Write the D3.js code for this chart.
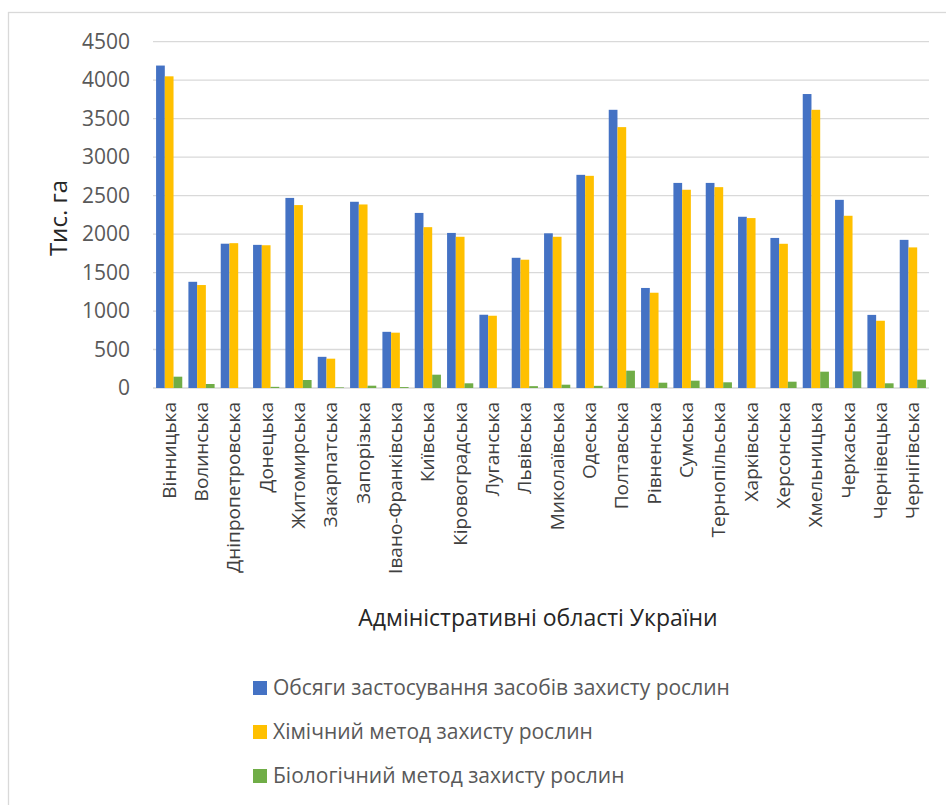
<!DOCTYPE html>
<html>
<head>
<meta charset="utf-8">
<script src="https://cdn.jsdelivr.net/npm/d3@7"></script>
<style>
  body { margin: 0; background: #fff; }
  text { font-family: "Open Sans", "Noto Sans", sans-serif; }
</style>
</head>
<body>
<div id="chart"></div>
<script>
// Regions of Ukraine
const regions = ['Вінницька', 'Волинська', 'Дніпропетровська', 'Донецька', 'Житомирська',
  'Закарпатська', 'Запорізька', 'Івано-Франківська', 'Київська', 'Кіровоградська',
  'Луганська', 'Львівська', 'Миколаївська', 'Одеська', 'Полтавська', 'Рівненська',
  'Сумська', 'Тернопільська', 'Харківська', 'Херсонська', 'Хмельницька', 'Черкаська',
  'Чернівецька', 'Чернігівська'];

const seriesNames = ['Обсяги застосування засобів захисту рослин',
  'Хімічний метод захисту рослин', 'Біологічний метод захисту рослин'];

const totalValues = [4190, 1380, 1875, 1860, 2470, 405, 2420, 730, 2275, 2015,
  952, 1692, 2010, 2770, 3615, 1300, 2665, 2665, 2225, 1950, 3820, 2445, 950, 1925];
const chemValues = [4050, 1338, 1882, 1855, 2377, 381, 2385, 719, 2090, 1965,
  939, 1667, 1965, 2757, 3390, 1238, 2576, 2610, 2208, 1874, 3615, 2238, 874, 1827];
const bioValues = [147, 52, 0, 15, 104, 8, 30, 12, 173, 61,
  0, 24, 43, 28, 225, 69, 95, 74, 0, 82, 212, 216, 61, 108];

const yTicks = [0, 500, 1000, 1500, 2000, 2500, 3000, 3500, 4000, 4500];
const colors = ['#4472C4', '#FFC000', '#70AD47'];

let width = 946, height = 805;
let plot = {left: 153, right: 929, top: 41.7, bottom: 388};

const svg = d3.select('#chart')
    .append('svg')
    .attr('width', width)
    .attr('height', height);

// chart border
svg.append('rect')
    .attr('x', 8.5).attr('y', 12.5)
    .attr('width', 960).attr('height', 820)
    .attr('fill', 'none')
    .attr('stroke', '#d9d9d9')
    .attr('stroke-width', 1.3);

// SCALES
let x0 = d3.scaleBand()
    .domain(regions)
    .range([plot.left, plot.right])
    .paddingInner(0.19)
    .paddingOuter(0.095);

let x1 = d3.scaleBand()
    .domain([0, 1, 2])
    .range([0, x0.bandwidth()]);

let y = d3.scaleLinear()
    .domain([0, 4500])
    .range([plot.bottom, plot.top]);

// gridlines
svg.append('g')
    .selectAll('line')
    .data(yTicks).enter()
    .append('line')
    .attr('x1', plot.left).attr('x2', plot.right)
    .attr('y1', d => y(d)).attr('y2', d => y(d))
    .attr('stroke', '#d9d9d9')
    .attr('stroke-width', 1.3);

// Y axis labels
let yAxis = d3.axisLeft(y).tickValues(yTicks).tickFormat(d3.format('d')).tickSize(0).tickPadding(23);
let gY = svg.append('g')
    .attr('transform', 'translate(' + plot.left + ',0)')
    .call(yAxis);
gY.select('.domain').remove();
gY.selectAll('text')
    .attr('fill', '#595959')
    .style('font-size', '21px');

// bars
let seriesData = [totalValues, chemValues, bioValues];
seriesData.forEach(function (vals, s) {
    svg.append('g')
        .selectAll('rect')
        .data(vals).enter()
        .append('rect')
        .attr('x', (d, i) => x0(regions[i]) + x1(s))
        .attr('y', d => y(d))
        .attr('width', x1.bandwidth())
        .attr('height', d => y(0) - y(d))
        .attr('fill', colors[s]);
});

// X axis labels
let xAxis = d3.axisBottom(x0).tickSize(0).tickPadding(0);
let gX = svg.append('g')
    .attr('transform', 'translate(0,' + plot.bottom + ')')
    .call(xAxis);
gX.select('.domain').remove();
gX.selectAll('text')
    .attr('transform', 'rotate(-90)')
    .attr('x', -14)
    .attr('y', 0)
    .attr('dy', '0.35em')
    .style('text-anchor', 'end')
    .attr('fill', '#404040')
    .style('font-size', '19px');

// axis titles
svg.append('text')
    .attr('x', 538).attr('y', 626)
    .attr('text-anchor', 'middle')
    .attr('fill', '#262626')
    .style('font-size', '23px')
    .text('Адміністративні області України');

svg.append('text')
    .attr('transform', 'translate(67,218) rotate(-90)')
    .attr('text-anchor', 'middle')
    .attr('fill', '#262626')
    .style('font-size', '24px')
    .text('Тис. га');

// legend
let legend = svg.append('g')
    .selectAll('g')
    .data(seriesNames).enter()
    .append('g')
    .attr('transform', (d, i) => 'translate(253,' + (688 + i * 44) + ')');

legend.append('rect')
    .attr('x', 0).attr('y', -7)
    .attr('width', 14).attr('height', 14)
    .attr('fill', (d, i) => colors[i]);

legend.append('text')
    .attr('x', 20).attr('y', 0)
    .attr('dy', '0.35em')
    .attr('fill', '#595959')
    .style('font-size', '21px')
    .text(d => d);
</script>
</body>
</html>
